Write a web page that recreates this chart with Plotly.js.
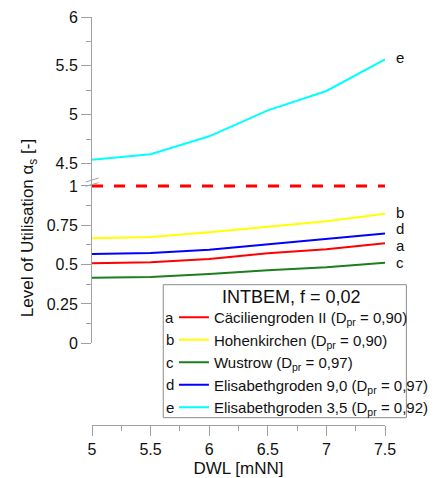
<!DOCTYPE html>
<html>
<head>
<meta charset="utf-8">
<script src="https://cdn.plot.ly/plotly-3.0.1.min.js"></script>
<style>html,body{margin:0;padding:0;background:#fff;}#chart{width:446px;height:478px;}</style>
</head>
<body>
<div id="chart"></div>
<script>
// ---- data ----
const dwl = [5, 5.5, 6, 6.5, 7, 7.5];
const seriesA = [0.508, 0.515, 0.536, 0.572, 0.598, 0.636]; // Cäciliengroden II
const seriesB = [0.668, 0.675, 0.705, 0.740, 0.776, 0.823]; // Hohenkirchen
const seriesC = [0.417, 0.421, 0.440, 0.464, 0.483, 0.512]; // Wustrow
const seriesD = [0.568, 0.574, 0.594, 0.629, 0.661, 0.698]; // Elisabethgroden 9,0
const seriesE = [4.54, 4.595, 4.779, 5.045, 5.243, 5.567];  // Elisabethgroden 3,5
const limitX = [5, 7.5];
const limitY = [1, 1];
const letters = ['a', 'b', 'c', 'd', 'e'];
const names = [
  'Cäciliengroden II (D<sub>pr</sub> = 0,90)',
  'Hohenkirchen (D<sub>pr</sub> = 0,90)',
  'Wustrow (D<sub>pr</sub> = 0,97)',
  'Elisabethgroden 9,0 (D<sub>pr</sub> = 0,97)',
  'Elisabethgroden 3,5 (D<sub>pr</sub> = 0,92)'
];
const legendTitle = 'INTBEM, f = 0,02';
const xTitle = 'DWL [mNN]';
const yTitle = 'Level of Utilisation α<sub>s</sub> [-]';
const colors = ['#ff0000', '#ffff00', '#1e7d1e', '#0000ff', '#00ffff'];

// ---- layout helpers (pixel -> paper) ----
const W = 446, H = 478, L = 92, R = 25, T = 17, B = 53;
const pw = W - L - R, ph = H - T - B;
const px = p => (p - L) / pw;
const py = p => (H - B - p) / ph;

const FONT = 'Arial, "Liberation Sans", sans-serif';
const axisGray = '#a0a0a0';

const all = [seriesA, seriesB, seriesC, seriesD, seriesE];
const traces = all.map((s, i) => ({
  x: dwl, y: s, type: 'scatter', mode: 'lines', name: names[i],
  yaxis: i === 4 ? 'y2' : 'y',
  line: {color: colors[i], width: 2},
  showlegend: true
}));
traces.push({
  x: limitX, y: limitY, type: 'scatter', mode: 'lines', yaxis: 'y',
  line: {color: '#ff0000', width: 3, dash: '11px,11px'}, showlegend: false, hoverinfo: 'skip'
});

const lowerDomain = [py(343.3), py(179.5)];
const upperDomain = [py(179.5), 1];

const annotations = [];
// right-side letters
const endLabels = [
  {t: 'a', y: 0.619, ax: 'y'}, {t: 'b', y: 0.834, ax: 'y'}, {t: 'c', y: 0.512, ax: 'y'},
  {t: 'd', y: 0.727, ax: 'y'}, {t: 'e', y: 5.588, ax: 'y2'}
];
endLabels.forEach(e => annotations.push({
  x: 7.5, y: e.y, xref: 'x', yref: e.ax, text: e.t, showarrow: false, height: 15,
  xanchor: 'left', yanchor: 'middle', xshift: 9, font: {family: FONT, size: 15, color: '#111'}
}));
// legend letters
const rowY = [317.3, 339.8, 362.3, 384.8, 407.3];
letters.forEach((l, i) => annotations.push({
  x: px(179.5), y: py(rowY[i]), xref: 'paper', yref: 'paper', text: l, showarrow: false,
  xanchor: 'center', yanchor: 'middle', font: {family: FONT, size: 15, color: '#111'}
}));
annotations.push({
  x: px(315.8), y: py(296.5), xref: 'paper', yref: 'paper', text: legendTitle, showarrow: false,
  xanchor: 'center', yanchor: 'middle', font: {family: FONT, size: 18, color: '#111'}
});
annotations.push({
  x: px(22), y: py(228.5), xref: 'paper', yref: 'paper', text: yTitle, showarrow: false,
  textangle: -90, xanchor: 'center', yanchor: 'middle', font: {family: FONT, size: 17, color: '#111'}
});

const shapes = [
  {type: 'rect', xref: 'paper', yref: 'paper', x0: px(172), x1: px(445), y0: py(417.7), y1: py(284.7),
   line: {color: '#8c8c8c', width: 1}, fillcolor: 'rgba(255,255,255,0)'},
  {type: 'line', xref: 'paper', yref: 'paper', x0: px(85), y0: py(182), x1: px(99.3), y1: py(178),
   line: {color: axisGray, width: 1}},
  {type: 'line', xref: 'paper', yref: 'paper', x0: px(85), y0: py(186.3), x1: px(99.3), y1: py(182.7),
   line: {color: axisGray, width: 1}}
];

const tickFont = {family: FONT, size: 16, color: '#111'};
const yCommon = {
  showline: true, linecolor: axisGray, linewidth: 1, ticks: 'outside', ticklen: 10, tickwidth: 1,
  tickcolor: axisGray, showgrid: false, zeroline: false, tickfont: tickFont, anchor: 'x',
  minor: {ticks: 'outside', ticklen: 5, tickcolor: axisGray, showgrid: false}
};

const layout = {
  width: W, height: H,
  margin: {l: L, r: R, t: T, b: B, pad: 0},
  paper_bgcolor: '#fff', plot_bgcolor: '#fff',
  showlegend: true,
  legend: {
    x: px(184), y: py(301), xanchor: 'left', yanchor: 'top', xref: 'paper', yref: 'paper',
    bgcolor: 'rgba(0,0,0,0)', borderwidth: 0, font: {family: FONT, size: 15, color: '#111'},
    traceorder: 'normal'
  },
  xaxis: {
    range: [5, 7.5], dtick: 0.5, tick0: 5, anchor: 'free', position: 0,
    showline: true, linecolor: axisGray, linewidth: 1, ticks: 'outside', ticklen: 10, tickwidth: 1,
    tickcolor: axisGray, showgrid: false, zeroline: false, tickfont: tickFont,
    minor: {ticks: 'outside', ticklen: 5, tickcolor: axisGray, dtick: 0.25, showgrid: false},
    title: {text: xTitle, font: {family: FONT, size: 17, color: '#111'}, standoff: 6}
  },
  yaxis: Object.assign({}, yCommon, {domain: lowerDomain, range: [0, 1.041], dtick: 0.25, tick0: 0,
    minor: Object.assign({}, yCommon.minor, {dtick: 0.125})}),
  yaxis2: Object.assign({}, yCommon, {domain: upperDomain, range: [4.337, 6], dtick: 0.5, tick0: 4.5,
    minor: Object.assign({}, yCommon.minor, {dtick: 0.25})}),
  annotations: annotations,
  shapes: shapes,
  font: {family: FONT}
};

Plotly.newPlot('chart', traces, layout, {displayModeBar: false, staticPlot: true});
</script>
</body>
</html>
